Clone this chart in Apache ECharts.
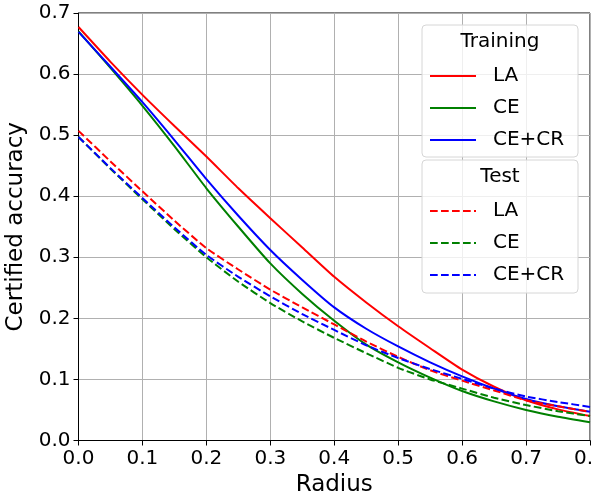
<!DOCTYPE html>
<html>
<head>
<meta charset="utf-8">
<script src="https://cdn.jsdelivr.net/npm/echarts@6/dist/echarts.min.js"></script>
<style>
  html, body { margin: 0; padding: 0; background: #fff; }
  #main { width: 594px; height: 498px; }
</style>
</head>
<body>
<div id="main"></div>
<script>
// radius values (x)
var radius = [0, 0.05, 0.1, 0.15, 0.2, 0.25, 0.3, 0.35, 0.4, 0.45, 0.5, 0.55, 0.6, 0.65, 0.7, 0.75, 0.8];

// training curves (solid)
var trainLA   = [0.677, 0.620, 0.566, 0.515, 0.465, 0.413, 0.364, 0.316, 0.268, 0.226, 0.187, 0.151, 0.116, 0.088, 0.066, 0.051, 0.040];
var trainCE   = [0.670, 0.610, 0.548, 0.482, 0.413, 0.350, 0.290, 0.240, 0.196, 0.157, 0.128, 0.103, 0.081, 0.064, 0.050, 0.039, 0.030];
var trainCECR = [0.669, 0.612, 0.554, 0.492, 0.428, 0.368, 0.312, 0.263, 0.218, 0.183, 0.154, 0.128, 0.105, 0.085, 0.068, 0.056, 0.047];

// test curves (dashed)
var testLA   = [0.507, 0.457, 0.408, 0.360, 0.315, 0.280, 0.247, 0.218, 0.190, 0.162, 0.137, 0.115, 0.098, 0.082, 0.066, 0.056, 0.047];
var testCE   = [0.497, 0.445, 0.395, 0.346, 0.300, 0.260, 0.225, 0.195, 0.168, 0.143, 0.119, 0.100, 0.085, 0.070, 0.058, 0.048, 0.040];
var testCECR = [0.497, 0.446, 0.397, 0.349, 0.304, 0.268, 0.236, 0.207, 0.181, 0.156, 0.135, 0.117, 0.101, 0.085, 0.072, 0.063, 0.055];

var xTicks = [0, 0.1, 0.2, 0.3, 0.4, 0.5, 0.6, 0.7, 0.8];
var yTicks = [0, 0.1, 0.2, 0.3, 0.4, 0.5, 0.6, 0.7];

var font = 'DejaVu Sans';
var dash = [7.7, 3.3];

function pairs(ys) {
    return radius.map(function (x, i) { return [x, ys[i]]; });
}

function mkSeries(name, ys, color, dashed) {
    return {
        name: name,
        type: 'line',
        data: pairs(ys),
        symbol: 'none',
        smooth: 0.2,
        lineStyle: { color: color, width: 2, type: dashed ? dash : 'solid' },
        itemStyle: { color: color }
    };
}

function mkLegend(names, prefix, top) {
    return {
        data: names,
        orient: 'vertical', left: 429, top: top, z: 10, padding: 0,
        itemWidth: 46, itemHeight: 18, itemGap: 12,
        selectedMode: false,
        itemStyle: { opacity: 0 },
        formatter: function (n) { return n.replace(prefix, ''); },
        textStyle: { fontFamily: font, fontSize: 20, color: '#000', padding: [0, 0, 0, 12] }
    };
}

var chart = echarts.init(document.getElementById('main'));

var option = {
    backgroundColor: '#fff',
    animation: false,
    grid: {
        left: 78.5, right: 4, top: 13, bottom: 57.5,
        outerBoundsMode: 'none', containLabel: false,
        show: true, borderColor: '#000', borderWidth: 1
    },
    xAxis: {
        type: 'value',
        min: xTicks[0], max: xTicks[xTicks.length - 1], interval: 0.1,
        name: 'Radius', nameLocation: 'middle', nameGap: 28,
        nameTextStyle: { fontFamily: font, fontSize: 23, color: '#000' },
        axisLine: { lineStyle: { color: '#000', width: 1 } },
        axisTick: { show: true, length: 5, lineStyle: { color: '#000' } },
        axisLabel: { fontFamily: font, fontSize: 20, color: '#000', margin: 8,
            formatter: function (v) { return v.toFixed(1); } },
        splitLine: { show: true, lineStyle: { color: '#b0b0b0', width: 1 } }
    },
    yAxis: {
        type: 'value',
        min: yTicks[0], max: yTicks[yTicks.length - 1], interval: 0.1,
        name: 'Certified accuracy', nameLocation: 'middle', nameGap: 49,
        nameTextStyle: { fontFamily: font, fontSize: 23, color: '#000' },
        axisLine: { show: true, lineStyle: { color: '#000', width: 1 } },
        axisTick: { show: true, length: 5, lineStyle: { color: '#000' } },
        axisLabel: { fontFamily: font, fontSize: 20, color: '#000', margin: 8,
            formatter: function (v) { return v.toFixed(1); } },
        splitLine: { show: true, lineStyle: { color: '#b0b0b0', width: 1 } }
    },
    graphic: [
        { type: 'rect', z: 5, shape: { x: 422, y: 25, width: 156, height: 132, r: 4 },
          style: { fill: 'rgba(255,255,255,0.8)', stroke: '#d6d6d6', lineWidth: 1 } },
        { type: 'rect', z: 5, shape: { x: 422, y: 160, width: 156, height: 133, r: 4 },
          style: { fill: 'rgba(255,255,255,0.8)', stroke: '#d6d6d6', lineWidth: 1 } },
        { type: 'text', z: 6, x: 500, y: 42,
          style: { text: 'Training', fontFamily: font, fontSize: 20, fill: '#000',
                   textAlign: 'center', textVerticalAlign: 'middle' } },
        { type: 'text', z: 6, x: 500, y: 177,
          style: { text: 'Test', fontFamily: font, fontSize: 20, fill: '#000',
                   textAlign: 'center', textVerticalAlign: 'middle' } }
    ],
    legend: [
        mkLegend(['Training LA', 'Training CE', 'Training CE+CR'], 'Training ', 66),
        mkLegend(['Test LA', 'Test CE', 'Test CE+CR'], 'Test ', 201)
    ],
    series: [
        mkSeries('Training LA', trainLA, '#ff0000', false),
        mkSeries('Training CE', trainCE, '#008000', false),
        mkSeries('Training CE+CR', trainCECR, '#0000ff', false),
        mkSeries('Test LA', testLA, '#ff0000', true),
        mkSeries('Test CE', testCE, '#008000', true),
        mkSeries('Test CE+CR', testCECR, '#0000ff', true)
    ]
};

chart.setOption(option);
</script>
</body>
</html>
